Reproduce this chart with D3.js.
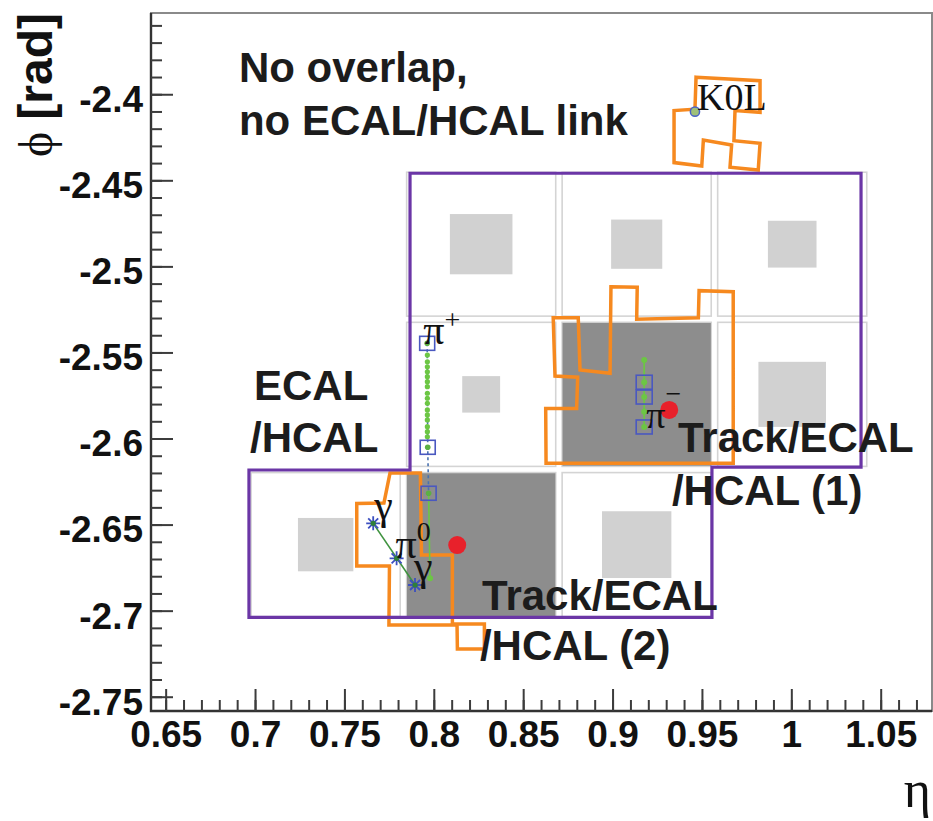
<!DOCTYPE html>
<html>
<head>
<meta charset="utf-8">
<script src="https://cdn.jsdelivr.net/npm/d3@7"></script>
<style>
  body { margin: 0; background: #fff; }
  svg { display: block; }
  .axis text { font-family: "Liberation Sans", Arial, sans-serif; font-weight: bold; font-size: 37px; fill: #111; }
  .axis line { stroke: #3c3c3c; stroke-width: 2; }
  .axis .domain { display: none; }
  .note { font-family: "Liberation Sans", Arial, sans-serif; font-weight: bold; font-size: 42px; fill: #1c1c1c; }
  .greek { font-family: "Liberation Serif", "Times New Roman", serif; fill: #111; }
</style>
</head>
<body>
<svg width="933" height="821"></svg>
<script>
/*global d3*/

// axis ticks
var etaTicks = [0.65, 0.7, 0.75, 0.8, 0.85, 0.9, 0.95, 1, 1.05];
var etaTickLabels = ["0.65", "0.7", "0.75", "0.8", "0.85", "0.9", "0.95", "1", "1.05"];
var phiTicks = [-2.4, -2.45, -2.5, -2.55, -2.6, -2.65, -2.7, -2.75];
var phiTickLabels = ["-2.4", "-2.45", "-2.5", "-2.55", "-2.6", "-2.65", "-2.7", "-2.75"];

// HCAL towers (edges in eta / phi, then [ieta, iphi])
var etaEdges = [0.696, 0.783, 0.870, 0.957, 1.044];
var phiEdges = [-2.4435, -2.5307, -2.6180, -2.7053];
var towers = [[1, 0], [2, 0], [3, 0], [1, 1], [2, 1], [3, 1], [0, 2], [1, 2], [2, 2]];

// energy boxes inside towers: [ieta, iphi, half size]
var ecalCells = [[1, 0, 0.0175], [2, 0, 0.0143], [3, 0, 0.0136], [1, 1, 0.0106], [3, 1, 0.0189], [0, 2, 0.0155], [2, 2, 0.0194]];
var hcalCells = [[2, 1, 0.0415], [1, 2, 0.0415]];

// cluster outlines [eta, phi]
var hcalCluster = [[0.7867, -2.4459], [1.0390, -2.4459], [1.0390, -2.6166], [0.9556, -2.6166], [0.9556, -2.7039],
    [0.6966, -2.7039], [0.6966, -2.6183], [0.7867, -2.6183]];
var ecalK0L = [[0.9467, -2.3901], [0.9825, -2.3921], [0.9825, -2.4105], [0.9685, -2.4095], [0.9679, -2.4270],
    [0.9825, -2.4285], [0.9815, -2.4440], [0.9657, -2.4424], [0.9666, -2.4295], [0.9508, -2.4266],
    [0.9499, -2.4417], [0.9344, -2.4397], [0.9344, -2.4095], [0.9461, -2.4087]];
var ecalPiMinus = [[0.8991, -2.5118], [0.9138, -2.5121], [0.9135, -2.5307], [0.9480, -2.5298], [0.9484, -2.5141],
    [0.9675, -2.5147], [0.9675, -2.6144], [0.8628, -2.6144], [0.8626, -2.5825], [0.8799, -2.5825],
    [0.8805, -2.5644], [0.8678, -2.5637], [0.8668, -2.5298], [0.8808, -2.5298], [0.8818, -2.5602], [0.8986, -2.5621]];
var ecalPhotons = [[0.7755, -2.6201], [0.7925, -2.6201], [0.7931, -2.6677], [0.8104, -2.6677], [0.8104, -2.7078],
    [0.8283, -2.7078], [0.8283, -2.7223], [0.8132, -2.7223], [0.8130, -2.7084], [0.7749, -2.7084],
    [0.7752, -2.6741], [0.7569, -2.6741], [0.7569, -2.6377], [0.7721, -2.6375]];

// tracks
var piPlusTrack = [[0.7963, -2.5447], [0.7966, -2.6051], [0.7971, -2.6318], [0.7979, -2.6812]];
var piPlusHits = [[0.7963, -2.5447], [0.7966, -2.6051], [0.7971, -2.6318]];
var piPlusPoints = [-2.5515, -2.5554, -2.5583, -2.5612, -2.5641, -2.5670, -2.5699, -2.5737, -2.5766,
    -2.5795, -2.5834, -2.5863, -2.5892, -2.5931, -2.5960, -2.5990];
var piMinusTrack = [[0.9177, -2.5544], [0.9177, -2.5933]];
var piMinusHits = [-2.5673, -2.5759, -2.5933];
var piMinusPoints = [-2.5544, -2.5673, -2.5759, -2.5845, -2.5933];

// photons of the pi0, cluster centres, neutral hadron
var photons = [[0.7661, -2.6493], [0.7792, -2.6696], [0.7895, -2.6851]];
var clusterCentres = [[0.9317, -2.5834], [0.8131, -2.6619]];
var neutralHadron = [[0.9461, -2.4101]];

// particle names: [text, superscript, eta, phi]
var particleNames = [
    ["K0L", "", 0.9461, -2.4101],
    ["\u03c0", "+", 0.7963, -2.5447],
    ["\u03c0", "\u2212", 0.9177, -2.5933],
    ["\u03b3", "", 0.7661, -2.6493],
    ["\u03c0", "0", 0.7792, -2.6696],
    ["\u03b3", "", 0.7895, -2.6851]
];

// annotations: [text, eta, phi]
var notes = [
    ["No overlap,", 0.6910, -2.3929],
    ["no ECAL/HCAL link", 0.6910, -2.4237],
    ["ECAL", 0.6994, -2.5776],
    ["/HCAL", 0.6972, -2.6078],
    ["Track/ECAL", 0.9366, -2.6078],
    ["/HCAL (1)", 0.9332, -2.6386],
    ["Track/ECAL", 0.8270, -2.6997],
    ["/HCAL (2)", 0.8258, -2.7287]
];

var svg = d3.select("svg"),
    margin = {top: 13, right: 1, bottom: 110, left: 151},
    width = +svg.attr("width") - margin.left - margin.right,
    height = +svg.attr("height") - margin.top - margin.bottom;

var x = d3.scaleLinear().domain([0.6418, 1.0787]).range([0, width]),
    y = d3.scaleLinear().domain([-2.7583, -2.3528]).range([height, 0]);

var g = svg.append("g")
    .attr("transform", "translate(" + margin.left + "," + margin.top + ")");

var line = d3.line()
    .x(function (d) { return x(d[0]); })
    .y(function (d) { return y(d[1]); });

var inset = 0.0018;

// tower outlines
g.selectAll(".tower")
    .data(towers)
    .enter().append("rect")
    .attr("class", "tower")
    .attr("x", function (d) { return x(etaEdges[d[0]] + inset); })
    .attr("y", function (d) { return y(phiEdges[d[1]] - inset); })
    .attr("width", function (d) { return x(etaEdges[d[0] + 1] - inset) - x(etaEdges[d[0]] + inset); })
    .attr("height", function (d) { return y(phiEdges[d[1] + 1] + inset) - y(phiEdges[d[1]] - inset); })
    .attr("fill", "none")
    .attr("stroke", "#d4d4d4")
    .attr("stroke-width", 1.6);

function cellBox(sel, color) {
    sel.attr("x", function (d) { return x((etaEdges[d[0]] + etaEdges[d[0] + 1]) / 2 - d[2]); })
        .attr("y", function (d) { return y((phiEdges[d[1]] + phiEdges[d[1] + 1]) / 2 + d[2]); })
        .attr("width", function (d) { return x(d[2] * 2) - x(0); })
        .attr("height", function (d) { return y(0) - y(d[2] * 2); })
        .attr("fill", color);
}

g.selectAll(".ecal").data(ecalCells).enter().append("rect").attr("class", "ecal").call(cellBox, "#d1d1d1");
g.selectAll(".hcal").data(hcalCells).enter().append("rect").attr("class", "hcal").call(cellBox, "#8d8d8d");

// ECAL clusters
g.selectAll(".ecalCluster")
    .data([ecalK0L, ecalPiMinus, ecalPhotons])
    .enter().append("path")
    .attr("class", "ecalCluster")
    .attr("d", function (d) { return line(d) + "Z"; })
    .attr("fill", "none")
    .attr("stroke", "#f6891f")
    .attr("stroke-width", 3.5);

// HCAL cluster
g.append("path")
    .attr("d", line(hcalCluster) + "Z")
    .attr("fill", "none")
    .attr("stroke", "#6b36a6")
    .attr("stroke-width", 3.2);

// pi+ track
g.append("path")
    .attr("d", line(piPlusTrack.slice(0, 3)))
    .attr("fill", "none")
    .attr("stroke", "#4a72b0")
    .attr("stroke-width", 1.6)
    .attr("stroke-dasharray", "3,3");
g.append("path")
    .attr("d", line(piPlusTrack.slice(2)))
    .attr("fill", "none")
    .attr("stroke", "#6cc644")
    .attr("stroke-width", 1.6);
g.selectAll(".ppt")
    .data(piPlusPoints)
    .enter().append("circle")
    .attr("cx", x(0.7964))
    .attr("cy", function (d) { return y(d); })
    .attr("r", 2.6)
    .attr("fill", "#6cc644");
g.append("circle")
    .attr("cx", x(piPlusTrack[3][0]))
    .attr("cy", y(piPlusTrack[3][1]))
    .attr("r", 3)
    .attr("fill", "#6cc644");
g.selectAll(".pph")
    .data(piPlusHits)
    .enter().append("g")
    .attr("transform", function (d) { return "translate(" + x(d[0]) + "," + y(d[1]) + ")"; })
    .each(function () {
        var s = d3.select(this);
        s.append("circle").attr("r", 2.8).attr("fill", "#5bb043");
        s.append("rect").attr("x", -7.5).attr("y", -7).attr("width", 15).attr("height", 14)
            .attr("fill", "none").attr("stroke", "#4a58c0").attr("stroke-width", 1.6);
    });

// pi- track
g.append("path")
    .attr("d", line(piMinusTrack))
    .attr("fill", "none")
    .attr("stroke", "#6cc644")
    .attr("stroke-width", 1.8);
g.selectAll(".pmp")
    .data(piMinusPoints)
    .enter().append("circle")
    .attr("cx", x(piMinusTrack[0][0]))
    .attr("cy", function (d) { return y(d); })
    .attr("r", 3)
    .attr("fill", "#6cc644");
g.selectAll(".pmh")
    .data(piMinusHits)
    .enter().append("rect")
    .attr("x", x(piMinusTrack[0][0]) - 8)
    .attr("y", function (d) { return y(d) - 7; })
    .attr("width", 16)
    .attr("height", 14)
    .attr("fill", "none")
    .attr("stroke", "#4a58c0")
    .attr("stroke-width", 1.6);

// pi0 -> gamma gamma
g.append("path")
    .attr("d", line([photons[0], photons[2]]))
    .attr("fill", "none")
    .attr("stroke", "#3f933f")
    .attr("stroke-width", 1.6);
var star = "M-7,0L7,0M0,-7L0,7M-5,-5L5,5M-5,5L5,-5";
g.selectAll(".photon")
    .data(photons)
    .enter().append("g")
    .attr("class", "photon")
    .attr("transform", function (d) { return "translate(" + x(d[0]) + "," + y(d[1]) + ")"; })
    .each(function () {
        var s = d3.select(this);
        s.append("path").attr("d", star).attr("stroke", "#3c4fc0").attr("stroke-width", 1.8);
        s.append("circle").attr("r", 2.6).attr("fill", "#2f7f3a");
    });

// neutral hadron
g.selectAll(".k0l")
    .data(neutralHadron)
    .enter().append("circle")
    .attr("cx", function (d) { return x(d[0]); })
    .attr("cy", function (d) { return y(d[1]); })
    .attr("r", 4.6)
    .attr("fill", "#9fc07a")
    .attr("stroke", "#4a62c8")
    .attr("stroke-width", 1.5);

// cluster centres
g.selectAll(".centre")
    .data(clusterCentres)
    .enter().append("circle")
    .attr("cx", function (d) { return x(d[0]); })
    .attr("cy", function (d) { return y(d[1]); })
    .attr("r", 9)
    .attr("fill", "#e8212b");

// particle names
var offsets = [[2, -2, 38], [-4, 1, 42], [2, 1, 38], [1, -4, 42], [-1, 0, 42], [-1, -5, 42]];
var supShift = [0, -15, -25, 0, -17, 0];
g.selectAll(".pname")
    .data(particleNames)
    .enter().append("text")
    .attr("class", "greek")
    .attr("x", function (d, i) { return x(d[2]) + offsets[i][0]; })
    .attr("y", function (d, i) { return y(d[3]) + offsets[i][1]; })
    .style("font-size", function (d, i) { return offsets[i][2] + "px"; })
    .each(function (d, i) {
        var t = d3.select(this);
        t.append("tspan").text(d[0]);
        if (d[1]) {
            t.append("tspan").attr("dy", supShift[i]).style("font-size", "28px").text(d[1]);
        }
    });

// annotations
g.selectAll(".note")
    .data(notes)
    .enter().append("text")
    .attr("class", "note")
    .attr("x", function (d) { return x(d[1]); })
    .attr("y", function (d) { return y(d[2]); })
    .text(function (d) { return d[0]; });

// frame
g.append("rect")
    .attr("width", width)
    .attr("height", height)
    .attr("fill", "none")
    .attr("stroke", "#8a8a8a")
    .attr("stroke-width", 2);
g.append("path")
    .attr("d", "M0,0V" + height + "H" + width)
    .attr("fill", "none")
    .attr("stroke", "#333")
    .attr("stroke-width", 2.4);

// axes
g.append("g")
    .attr("class", "axis")
    .call(d3.axisLeft(y).tickValues(y.ticks(40)).tickSizeInner(-11).tickSizeOuter(0).tickFormat(""));
g.append("g")
    .attr("class", "axis")
    .call(d3.axisLeft(y).tickValues(phiTicks).tickSizeInner(-22).tickSizeOuter(0).tickPadding(8)
        .tickFormat(function (d, i) { return phiTickLabels[i]; }))
    .selectAll("text")
    .attr("dy", "0.47em");

g.append("g")
    .attr("class", "axis")
    .attr("transform", "translate(0," + height + ")")
    .call(d3.axisBottom(x).tickValues(x.ticks(40)).tickSizeInner(-11).tickSizeOuter(0).tickFormat(""));
g.append("g")
    .attr("class", "axis")
    .attr("transform", "translate(0," + height + ")")
    .call(d3.axisBottom(x).tickValues(etaTicks).tickSizeInner(-22).tickSizeOuter(0).tickPadding(10)
        .tickFormat(function (d, i) { return etaTickLabels[i]; }));

// axis titles
var yTitle = svg.append("text")
    .attr("transform", "translate(52,13) rotate(-90)")
    .attr("text-anchor", "end")
    .style("font-size", "48px");
yTitle.append("tspan")
    .attr("class", "greek")
    .text("\u03d5 ");
yTitle.append("tspan")
    .style("font-family", "'Liberation Sans', Arial, sans-serif")
    .style("font-weight", "bold")
    .attr("fill", "#111")
    .text("[rad]");

svg.append("text")
    .attr("class", "greek")
    .attr("x", 931)
    .attr("y", 807)
    .attr("text-anchor", "end")
    .style("font-size", "52px")
    .text("\u03b7");
</script>
</body>
</html>
